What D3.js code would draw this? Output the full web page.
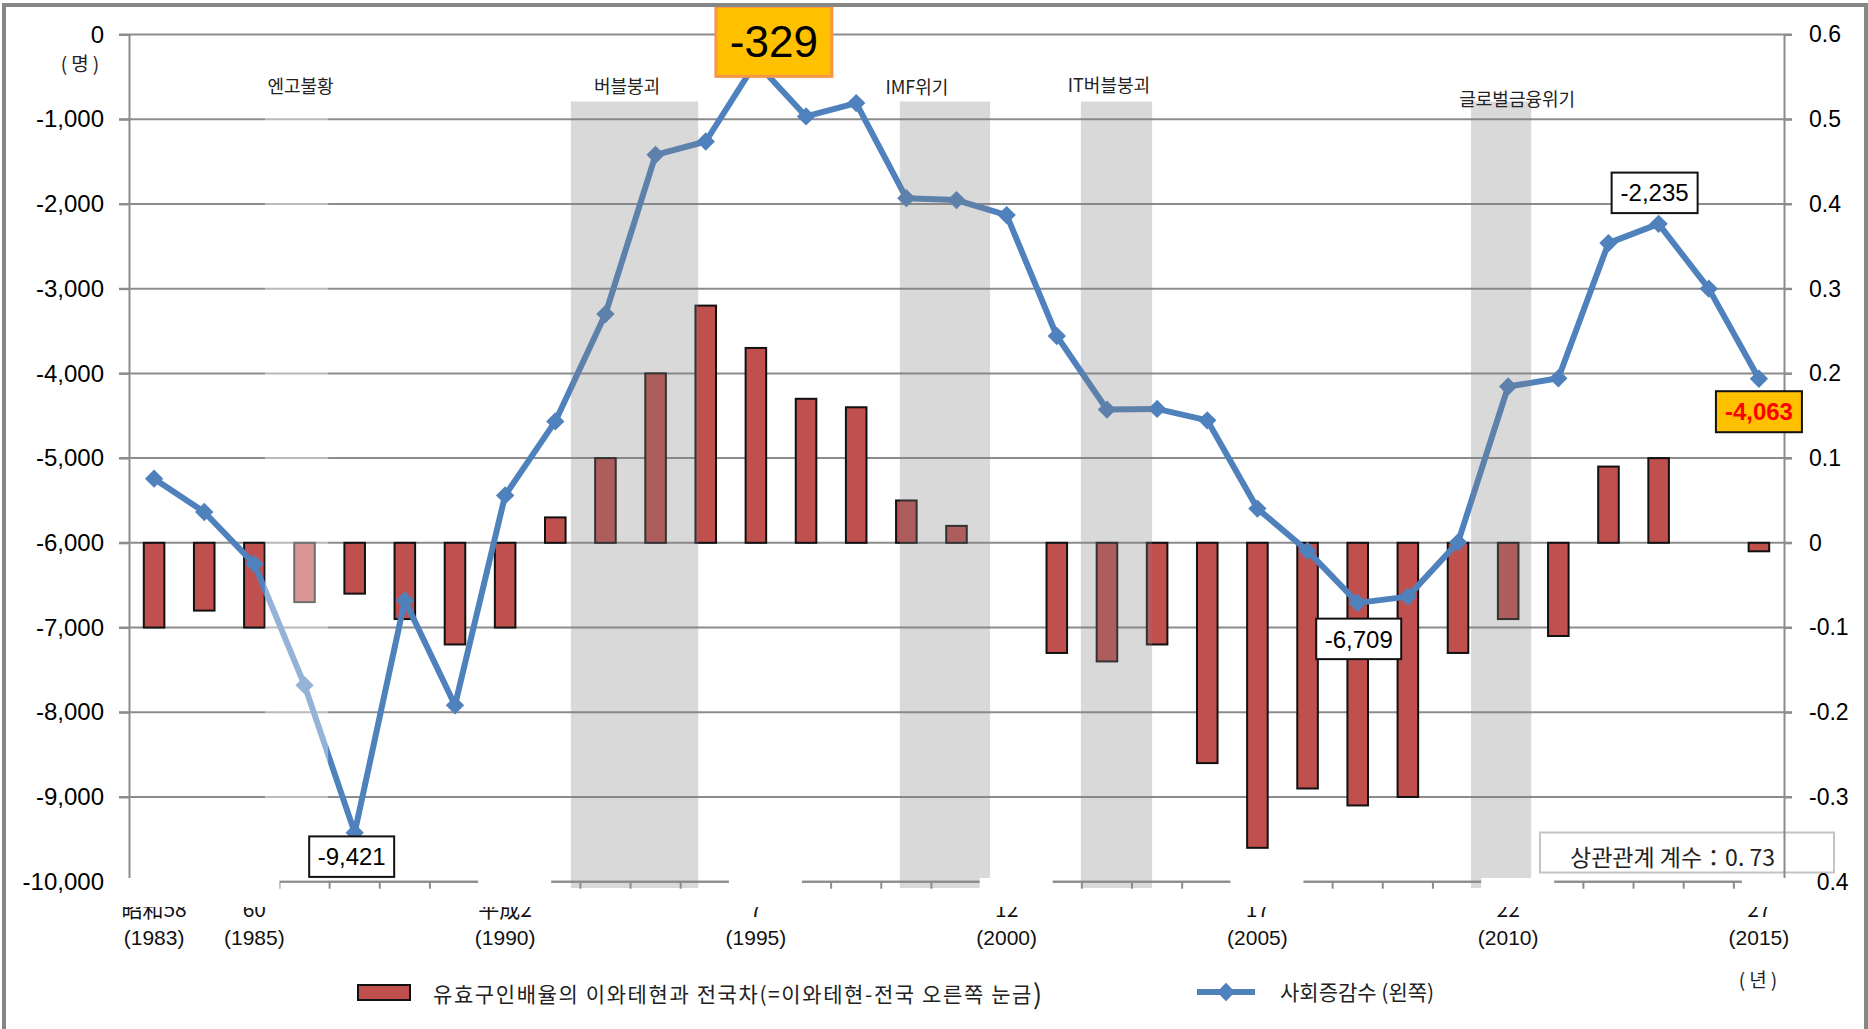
<!DOCTYPE html>
<html>
<head>
<meta charset="utf-8">
<script src="https://cdn.jsdelivr.net/npm/d3@7"></script>
<style>
  html, body { margin: 0; padding: 0; background: #fff; }
  svg { display: block; }
</style>
</head>
<body>
<svg id="chart" width="1868" height="1029"></svg>
<script>
// categories
const years = [1983, 1984, 1985, 1986, 1987, 1988, 1989, 1990, 1991, 1992, 1993,
  1994, 1995, 1996, 1997, 1998, 1999, 2000, 2001, 2002, 2003, 2004, 2005,
  2006, 2007, 2008, 2009, 2010, 2011, 2012, 2013, 2014, 2015];

// 사회증감수 (left axis, persons)
const socialChange = [-5243, -5636, -6251, -7680, -9421, -6679, -7918, -5440,
  -4567, -3299, -1420, -1263, -329, -967, -810, -1932, -1954, -2132, -3559,
  -4427, -4419, -4554, -5596, -6096, -6709, -6635, -5994, -4155, -4058,
  -2462, -2235, -3000, -4063];

// 유효구인배율 이와테현-전국 (right axis)
const jobRatioDiff = [-0.10, -0.08, -0.10, -0.07, -0.06, -0.09, -0.12, -0.10,
  0.03, 0.10, 0.20, 0.28, 0.23, 0.17, 0.16, 0.05, 0.02, 0, -0.13, -0.14,
  -0.12, -0.26, -0.36, -0.29, -0.31, -0.30, -0.13, -0.09, -0.11, 0.09, 0.10,
  0, -0.01];

// axis ticks
const leftTicks = [0, -1000, -2000, -3000, -4000, -5000, -6000, -7000, -8000, -9000, -10000];
const rightTicks = [0.6, 0.5, 0.4, 0.3, 0.2, 0.1, 0, -0.1, -0.2, -0.3, -0.4];

// era labels under the axis
const eraYears = [1983, 1985, 1990, 1995, 2000, 2005, 2010, 2015];
const eraNames = ["昭和58", "60", "平成2", "7", "12", "17", "22", "27"];

// shaded periods (in year units)
const periodNames = ["엔고불황", "버블붕괴", "IMF위기", "IT버블붕괴", "글로벌금융위기"];
const periodStart = [1985.21, 1991.31, 1997.87, 2001.48, 2009.26];
const periodEnd = [1986.47, 1993.85, 1999.67, 2002.90, 2010.46];
const periodLabelAt = [1985.92, 1992.43, 1998.21, 2002.04, 2010.18];

// highlighted values
const calloutYears = [1987, 1995, 2007, 2013, 2015];

const KR = "'Noto Sans CJK KR', 'Noto Sans', sans-serif";
const JP = "'Noto Sans CJK JP', sans-serif";
const NUM = "'Liberation Sans', Arial, sans-serif";
const RED = "#C0504D";
const BLUE = "#4F81BD";
const GRID = "#8c8c8c";

const svg = d3.select("#chart");
const plotLeft = 129, plotRight = 1784, plotTop = 34.5, plotBottom = 881.7;

const locale = d3.formatLocale({ decimal: ".", thousands: ",", grouping: [3], currency: ["", ""], minus: "-" });
const fmtInt = locale.format(",");
const fmtRight = locale.format(".1~f");

const x = d3.scaleBand().domain(years).range([plotLeft, plotRight])
  .paddingInner(0.59).paddingOuter(0.295);
const step = x.step();
const cx = y => x(y) + x.bandwidth() / 2;
const xYear = d3.scaleLinear().domain([1983, 2015]).range([cx(1983), cx(2015)]);

const yL = d3.scaleLinear().domain([-10000, 0]).range([plotBottom, plotTop]);
const yR = d3.scaleLinear().domain([-0.4, 0.6]).range([plotBottom, plotTop]);

const diamond = {
  draw(ctx, size) {
    const r = Math.sqrt(size) / 2 * 1.25;
    ctx.moveTo(0, -r); ctx.lineTo(r, 0); ctx.lineTo(0, r); ctx.lineTo(-r, 0); ctx.closePath();
  }
};
const marker = d3.symbol().type(diamond).size(215);

// gridlines
svg.append("g")
  .selectAll("line")
  .data(leftTicks)
  .join("line")
  .attr("x1", plotLeft - 10).attr("x2", plotRight + 8)
  .attr("y1", d => yL(d)).attr("y2", d => yL(d))
  .attr("stroke", GRID).attr("stroke-width", 2);

// bars
svg.append("g")
  .selectAll("rect")
  .data(years.map((y, i) => ({ year: y, v: jobRatioDiff[i] })).filter(d => d.v !== 0))
  .join("rect")
  .attr("x", d => x(d.year))
  .attr("width", x.bandwidth())
  .attr("y", d => yR(Math.max(0, d.v)))
  .attr("height", d => Math.abs(yR(d.v) - yR(0)))
  .attr("fill", RED)
  .attr("stroke", "#111")
  .attr("stroke-width", 2);

// line
const lineData = years.map((y, i) => ({ year: y, v: socialChange[i] }));
svg.append("path")
  .datum(lineData)
  .attr("d", d3.line().x(d => cx(d.year)).y(d => yL(d.v)))
  .attr("fill", "none")
  .attr("stroke", BLUE)
  .attr("stroke-width", 6)
  .attr("stroke-linejoin", "round");

svg.append("g")
  .selectAll("path")
  .data(lineData)
  .join("path")
  .attr("transform", d => `translate(${cx(d.year)},${yL(d.v)})`)
  .attr("d", marker)
  .attr("fill", BLUE);

// shaded periods
const bandTop = 101.5, bandBottom = 888;
svg.append("g")
  .selectAll("rect")
  .data(periodNames.map((n, i) => ({ name: n, s: periodStart[i], e: periodEnd[i], i })))
  .join("rect")
  .attr("x", d => xYear(d.s))
  .attr("width", d => xYear(d.e) - xYear(d.s))
  .attr("y", bandTop)
  .attr("height", bandBottom - bandTop)
  .attr("fill", d => d.i === 0 ? "rgba(255,255,255,0.4)" : "rgba(128,128,128,0.3)");

const periodLabelY = [93, 93, 94, 92, 106];
svg.append("g")
  .selectAll("text")
  .data(periodNames)
  .join("text")
  .attr("x", (d, i) => xYear(periodLabelAt[i]))
  .attr("y", (d, i) => periodLabelY[i])
  .attr("text-anchor", "middle")
  .attr("font-family", KR)
  .attr("font-size", 18)
  .attr("fill", "#222")
  .text(d => d);

// correlation note
svg.append("rect")
  .attr("x", 1540).attr("y", 832.5).attr("width", 294).attr("height", 40)
  .attr("fill", "#fff").attr("stroke", "#c4c4c4").attr("stroke-width", 2);
svg.append("text")
  .attr("x", 1570).attr("y", 866)
  .attr("font-family", KR).attr("font-size", 23).attr("fill", "#222")
  .text("상관관계 계수：0. 73");

// axes
const axL = svg.append("g")
  .attr("transform", `translate(${plotLeft},0)`)
  .call(d3.axisLeft(yL).tickValues(leftTicks).tickFormat(fmtInt)
    .tickSizeInner(10).tickSizeOuter(0).tickPadding(15));
const axR = svg.append("g")
  .attr("transform", `translate(${plotRight},0)`)
  .call(d3.axisRight(yR).tickValues(rightTicks).tickFormat(fmtRight)
    .tickSizeInner(8).tickSizeOuter(0).tickPadding(17));
[axL, axR].forEach(g => {
  g.select(".domain").attr("stroke", GRID).attr("stroke-width", 2);
  g.selectAll(".tick line").attr("stroke", GRID).attr("stroke-width", 2);
  g.selectAll(".tick text").attr("font-family", NUM).attr("fill", "#000");
});
axL.selectAll(".tick text").attr("font-size", 24);
axR.selectAll(".tick text").attr("font-size", 23);

// category axis
svg.append("line")
  .attr("x1", plotLeft).attr("x2", plotRight)
  .attr("y1", plotBottom).attr("y2", plotBottom)
  .attr("stroke", GRID).attr("stroke-width", 2);
svg.append("g")
  .selectAll("line")
  .data(years.concat([null]))
  .join("line")
  .attr("x1", (d, i) => plotLeft + i * step).attr("x2", (d, i) => plotLeft + i * step)
  .attr("y1", plotBottom).attr("y2", plotBottom + 7)
  .attr("stroke", GRID).attr("stroke-width", 2);

// era labels (upper line gets partly covered)
svg.append("g")
  .selectAll("text")
  .data(eraNames)
  .join("text")
  .attr("x", (d, i) => cx(eraYears[i]))
  .attr("y", 917)
  .attr("text-anchor", "middle")
  .attr("font-family", JP).attr("font-size", 21).attr("fill", "#111")
  .text(d => d);

// white patches over axis bottom
const masks = eraYears.slice(1).map((y, i) => {
  if (i === 0) return [105, plotLeft + 3 * step];
  if (y === 2015) return [cx(y) - 17, 1816];
  return [cx(y) - 27, cx(y) + 46];
});
svg.append("g")
  .selectAll("rect")
  .data(masks)
  .join("rect")
  .attr("x", d => d[0]).attr("width", d => d[1] - d[0])
  .attr("y", 878).attr("height", 29)
  .attr("fill", "#fff");

svg.append("g")
  .selectAll("text")
  .data(eraYears)
  .join("text")
  .attr("x", d => cx(d))
  .attr("y", 945)
  .attr("text-anchor", "middle")
  .attr("font-family", NUM).attr("font-size", 21).attr("fill", "#111")
  .text(d => `(${d})`);

// unit labels
svg.append("text").attr("x", 82).attr("y", 71).attr("text-anchor", "middle")
  .attr("font-family", KR).attr("font-size", 19).attr("letter-spacing", 4).attr("fill", "#222").text("(명)");
svg.append("text").attr("x", 1760).attr("y", 987).attr("text-anchor", "middle")
  .attr("font-family", KR).attr("font-size", 19).attr("letter-spacing", 4).attr("fill", "#222").text("(년)");

// callouts
const calloutStyle = {
  1987: { dx: -3, dy: 24, fill: "#fff", stroke: "#111", sw: 2, color: "#000", size: 24, weight: "normal", w: 85, h: 40.5 },
  1995: { dx: 18, dy: -21, fill: "#FFC000", stroke: "#F79646", sw: 3, color: "#000", size: 44, weight: "normal", w: 116, h: 70 },
  2007: { dx: 1, dy: 36, fill: "#fff", stroke: "#111", sw: 2, color: "#000", size: 24, weight: "normal", w: 85, h: 40.5 },
  2013: { dx: -4, dy: -31, fill: "#fff", stroke: "#111", sw: 2, color: "#000", size: 24, weight: "normal", w: 86, h: 40.5 },
  2015: { dx: 0, dy: 33, fill: "#FFC000", stroke: "#111", sw: 2, color: "#FF0000", size: 24, weight: "bold", w: 86, h: 41 }
};
const co = svg.append("g")
  .selectAll("g")
  .data(calloutYears.map(y => ({ year: y, v: socialChange[years.indexOf(y)] })))
  .join("g")
  .attr("transform", d => {
    const s = calloutStyle[d.year];
    return `translate(${cx(d.year) + s.dx},${yL(d.v) + s.dy})`;
  });
co.append("rect")
  .attr("x", d => -calloutStyle[d.year].w / 2)
  .attr("y", d => -calloutStyle[d.year].h / 2)
  .attr("width", d => calloutStyle[d.year].w)
  .attr("height", d => calloutStyle[d.year].h)
  .attr("fill", d => calloutStyle[d.year].fill)
  .attr("stroke", d => calloutStyle[d.year].stroke)
  .attr("stroke-width", d => calloutStyle[d.year].sw);
co.append("text")
  .attr("text-anchor", "middle")
  .attr("dy", "0.36em")
  .attr("font-family", NUM)
  .attr("font-size", d => calloutStyle[d.year].size)
  .attr("font-weight", d => calloutStyle[d.year].weight)
  .attr("fill", d => calloutStyle[d.year].color)
  .text(d => fmtInt(d.v));

// legend
const lg = svg.append("g");
lg.append("rect").attr("x", 358).attr("y", 985).attr("width", 52).attr("height", 15)
  .attr("fill", RED).attr("stroke", "#111").attr("stroke-width", 2);
const lgText = lg.append("text").attr("x", 433).attr("y", 1002)
  .attr("font-family", KR).attr("font-size", 21).attr("letter-spacing", 1.6).attr("fill", "#222");
lgText.append("tspan").text("유효구인배율의  이와테현과 전국차(=이와테현-전국 오른쪽 눈금");
lgText.append("tspan").attr("font-size", 27).attr("dy", 2).text(")");
lg.append("line").attr("x1", 1197).attr("x2", 1255).attr("y1", 992).attr("y2", 992)
  .attr("stroke", BLUE).attr("stroke-width", 6);
lg.append("path").attr("transform", "translate(1226,992)").attr("d", marker).attr("fill", BLUE);
lg.append("text").attr("x", 1280).attr("y", 1000)
  .attr("font-family", KR).attr("font-size", 21).attr("fill", "#222")
  .text("사회증감수 (왼쪽)");

// outer frame
svg.append("rect")
  .attr("x", 4).attr("y", 5).attr("width", 1862).attr("height", 1040)
  .attr("fill", "none").attr("stroke", "#868686").attr("stroke-width", 4);
</script>
</body>
</html>
